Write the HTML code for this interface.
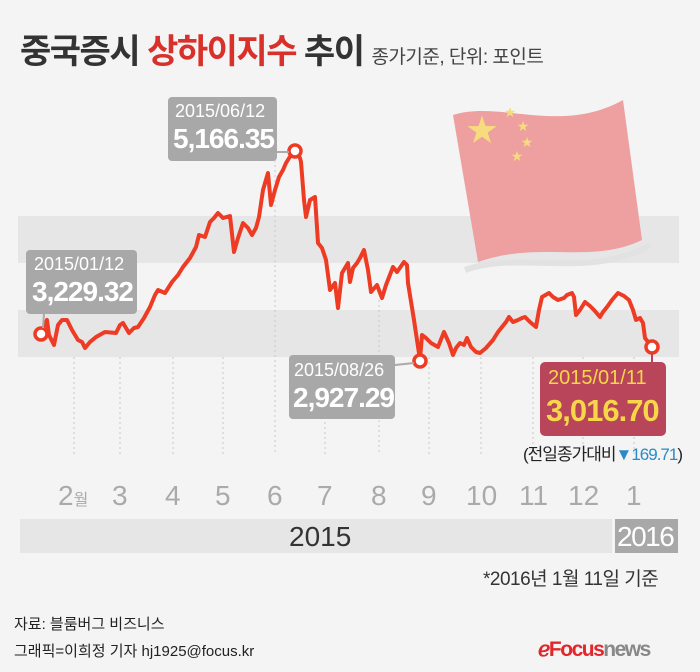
<!DOCTYPE html>
<html><head><meta charset="utf-8"><style>
body{margin:0;background:#f4f4f4;}
#w{position:relative;width:700px;height:672px;overflow:hidden;background:#f4f4f4;font-family:"Liberation Sans","Noto Sans CJK KR",sans-serif;}
.t{position:absolute;white-space:nowrap;}
</style></head><body><div id="w">
<div class="t" style="left:20px;top:24px;font-size:34px;font-weight:bold;color:#333;letter-spacing:-1.5px;">중국증시 <span style="color:#d8302a">상하이지수</span> 추이 <span style="font-size:19px;font-weight:normal;color:#444;letter-spacing:-0.5px">종가기준, 단위: 포인트</span></div>
<svg style="position:absolute;left:0;top:0" width="700" height="672">
<rect x="18" y="216" width="661" height="47" fill="#e6e6e6"/>
<rect x="18" y="310" width="661" height="47" fill="#e6e6e6"/>
<g stroke="#c8c8c8" stroke-dasharray="2,3" stroke-width="1">
<line x1="74" y1="357" x2="74" y2="455"/><line x1="120" y1="357" x2="120" y2="455"/><line x1="173" y1="357" x2="173" y2="455"/><line x1="223" y1="357" x2="223" y2="455"/><line x1="275" y1="160" x2="275" y2="455"/><line x1="325" y1="357" x2="325" y2="455"/><line x1="379" y1="300" x2="379" y2="455"/><line x1="429" y1="357" x2="429" y2="455"/><line x1="481" y1="357" x2="481" y2="455"/><line x1="533" y1="357" x2="533" y2="455"/><line x1="583" y1="357" x2="583" y2="455"/><line x1="634" y1="357" x2="634" y2="455"/>
</g>
<path d="M465,270 C520,250 590,280 650,245" stroke="#e2e2e2" stroke-width="6" fill="none"/>
<path d="M453,115 C500,100 560,135 623,100 L642,240 C590,265 540,240 478,262 Z" fill="#eea0a0"/>
<g fill="#f6dc7c" font-size="14" text-anchor="middle" font-family="DejaVu Sans">
<text x="482" y="143" font-size="38">★</text><text x="510" y="117">★</text><text x="523" y="131">★</text><text x="527" y="147">★</text><text x="517" y="161">★</text></g>
<polyline fill="none" stroke="#ee3b24" stroke-width="4" stroke-linejoin="round" points="41,333 47,320 49,335 54,345 58,325 62,320 67,320 72,330 78,340 82,342 85,348 90,342 96,337 105,332 116,333 120,325 123,323 129,333 134,328 138,327 144,318 150,307 155,295 158,290 165,293 172,282 178,275 183,267 190,258 196,247 199,235 205,237 210,222 214,218 218,213 223,218 230,216 234,252 238,238 243,223 248,228 252,235 256,228 259,217 263,190 268,173 271,205 275,190 279,177 283,170 286,163 291,155 295,150 300,158 301,162 304,200 306,217 310,200 315,197 318,243 322,248 326,260 330,290 335,283 338,308 342,273 348,263 350,282 353,268 357,263 360,258 364,250 368,270 371,292 377,285 382,298 386,285 393,267 397,272 404,262 407,265 408,283 414,320 420,360 422,335 426,338 431,343 438,347 444,332 449,343 453,355 456,348 460,343 464,345 467,338 471,347 476,352 480,353 486,348 493,340 498,332 502,327 506,322 509,317 513,322 518,320 522,318 525,317 530,322 536,327 539,310 542,297 549,293 553,297 558,300 564,298 567,295 572,293 574,297 576,315 580,310 585,302 590,306 594,310 600,317 603,312 607,307 612,300 618,293 624,296 629,300 633,310 636,320 640,318 643,323 645,338 652,347"/>
<g fill="none" stroke="#ee3b24" stroke-width="3.5"><circle cx="41" cy="334" r="6" fill="#fff"/><circle cx="295" cy="151" r="6" fill="#fff"/><circle cx="420" cy="361" r="6" fill="#fff"/><circle cx="652" cy="347" r="6" fill="#fff"/></g>
<g stroke="#aaa" stroke-width="2"><line x1="44" y1="314" x2="43" y2="328"/><line x1="277" y1="152" x2="289" y2="152"/><line x1="395" y1="365" x2="414" y2="363"/></g>
<line x1="652" y1="353" x2="652" y2="362" stroke="#b8455a" stroke-width="2"/>
<rect x="26" y="250" width="111" height="64" rx="4" fill="#a8a8a8"/>
<rect x="168" y="97" width="109" height="64" rx="4" fill="#a8a8a8"/>
<rect x="289" y="355" width="106" height="64" rx="4" fill="#a8a8a8"/>
<rect x="540" y="362" width="126" height="74" rx="5" fill="#b8455a"/>
<rect x="20" y="519" width="592" height="34" fill="#e6e6e6"/>
<rect x="615" y="519" width="63" height="34" fill="#a8a8a8"/>
</svg>
<div class="t" style="left:34px;top:254px;font-size:18px;color:#fff;">2015/01/12</div>
<div class="t" style="left:32px;top:276px;font-size:28px;font-weight:bold;color:#fff;letter-spacing:-1px;">3,229.32</div>
<div class="t" style="left:175px;top:101px;font-size:18px;color:#fff;">2015/06/12</div>
<div class="t" style="left:173px;top:123px;font-size:28px;font-weight:bold;color:#fff;letter-spacing:-1px;">5,166.35</div>
<div class="t" style="left:294px;top:360px;font-size:18px;color:#fff;">2015/08/26</div>
<div class="t" style="left:293px;top:382px;font-size:28px;font-weight:bold;color:#fff;letter-spacing:-1px;">2,927.29</div>
<div class="t" style="left:548px;top:367px;font-size:20px;color:#f7d64a;">2015/01/11</div>
<div class="t" style="left:546px;top:393px;font-size:31px;font-weight:bold;color:#f7d64a;letter-spacing:-1px;">3,016.70</div>
<div class="t" style="left:523px;top:440px;font-size:17px;color:#222;letter-spacing:-1px;">(전일종가대비<span style="color:#2a8ac8">▼169.71</span>)</div>
<div class="t" style="left:0;top:480px;font-size:28px;color:#aaa;width:700px;">
<span class="t" style="left:58px">2<span style="font-size:16px">월</span></span><span class="t" style="left:112px">3</span><span class="t" style="left:165px">4</span><span class="t" style="left:215px">5</span><span class="t" style="left:267px">6</span><span class="t" style="left:317px">7</span><span class="t" style="left:371px">8</span><span class="t" style="left:421px">9</span><span class="t" style="left:466px">10</span><span class="t" style="left:519px">11</span><span class="t" style="left:568px">12</span><span class="t" style="left:626px">1</span></div>
<div class="t" style="left:289px;top:521px;font-size:28px;color:#333;">2015</div>
<div class="t" style="left:617px;top:521px;font-size:28px;color:#fff;letter-spacing:-1.5px;">2016</div>
<div class="t" style="left:483px;top:564px;font-size:19px;color:#333;letter-spacing:-0.5px;">*2016년 1월 11일 기준</div>
<div class="t" style="left:14px;top:613px;font-size:15px;color:#222;">자료: 블룸버그 비즈니스</div>
<div class="t" style="left:14px;top:640px;font-size:15px;color:#222;">그래픽=이희정 기자 hj1925@focus.kr</div>
<div class="t" style="left:538px;top:637px;font-size:21px;font-weight:bold;letter-spacing:-1.5px;"><span style="color:#e3262b">ℯFocus</span><span style="color:#888">news</span></div>
</div></body></html>
